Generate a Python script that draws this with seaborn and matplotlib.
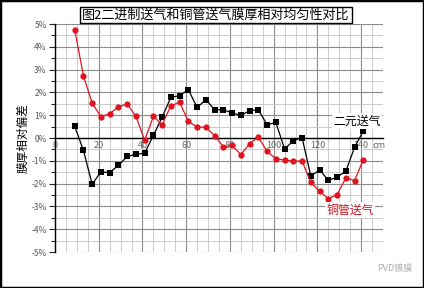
import numpy as np
import pandas as pd
import matplotlib
matplotlib.use("Agg")
import matplotlib.pyplot as plt
from matplotlib.ticker import MultipleLocator, FuncFormatter
from matplotlib.patches import Rectangle
import seaborn as sns

positions = [9 + 4 * i for i in range(34)]
binary_feed = [0.51, -0.54, -2.03, -1.48, -1.52, -1.20, -0.81, -0.72, -0.66, 0.11,
               0.92, 1.78, 1.86, 2.12, 1.34, 1.68, 1.24, 1.24, 1.10, 0.99,
               1.20, 1.24, 0.58, 0.68, -0.48, -0.12, 0.02, -1.68, -1.39, -1.86,
               -1.71, -1.46, -0.41, 0.31]
copper_feed = [4.75, 2.73, 1.53, 0.93, 1.07, 1.36, 1.50, 0.95, -0.10, 0.95,
               0.58, 1.42, 1.56, 0.73, 0.48, 0.47, 0.10, -0.39, -0.32, -0.73,
               -0.25, 0.04, -0.59, -0.91, -0.97, -1.01, -1.01, -1.95, -2.34, -2.66,
               -2.49, -1.75, -1.87, -0.95]
series_names = ["二元送气", "铜管送气"]
title = "图2二进制送气和铜管送气膜厚相对均匀性对比"
ylabel = "膜厚相对偏差"
x_ticks = [0, 20, 40, 60, 80, 100, 120, 140]

sns.set_style("white")
plt.rcParams['font.family'] = ['Noto Sans CJK SC', 'DejaVu Sans']
plt.rcParams['axes.unicode_minus'] = False

df = pd.DataFrame({
    "pos": positions * 2,
    "val": binary_feed + copper_feed,
    "series": [series_names[0]] * len(positions) + [series_names[1]] * len(positions),
})

fig = plt.figure(figsize=(4.24, 2.88), dpi=100)
ax = fig.add_axes([55 / 424, 1 - 252 / 288, (383 - 55) / 424, (252 - 24) / 288])

red = "#e0141e"
sns.lineplot(data=df, x="pos", y="val", hue="series", style="series",
             palette={series_names[0]: "black", series_names[1]: red},
             markers={series_names[0]: "s", series_names[1]: "o"},
             dashes=False, markersize=4.5, linewidth=0.9, markeredgewidth=0,
             legend=False, ax=ax, zorder=3)

ax.set_xlim(0, 150)
ax.set_ylim(-5, 5)
ax.xaxis.set_major_locator(MultipleLocator(20))
ax.xaxis.set_minor_locator(MultipleLocator(5))
ax.yaxis.set_major_locator(MultipleLocator(1))
ax.yaxis.set_minor_locator(MultipleLocator(0.5))
ax.grid(which="major", color="#8a8a8a", linewidth=0.8)
ax.grid(which="minor", color="#c4c4c4", linewidth=0.6)
ax.set_axisbelow(True)

for s in ["top", "right"]:
    ax.spines[s].set_visible(False)
ax.spines["bottom"].set_position(("data", 0))
ax.spines["bottom"].set_color("black")
ax.spines["bottom"].set_linewidth(1.0)
ax.spines["left"].set_color("black")
ax.spines["left"].set_linewidth(1.0)

ax.yaxis.set_major_formatter(FuncFormatter(lambda v, p: f"{int(round(v))}%"))
ax.tick_params(axis="y", which="major", direction="out", length=4, width=0.8,
               labelsize=6, labelcolor="#555555", left=True, pad=2)
ax.tick_params(axis="y", which="minor", direction="out", length=3, width=0.8, left=True)
ax.tick_params(axis="x", which="both", length=0, labelsize=6.5, labelcolor="#666666", pad=2)
ax.set_xticks(x_ticks)
ax.set_xticklabels([str(t) for t in x_ticks])
ax.text(148, -0.12, "cm", ha="center", va="top", fontsize=6.5, color="#666666")

ax.set_xlabel("")
ax.set_ylabel("")
fig.text(23 / 424, 1 - 138 / 288, ylabel, rotation=90, ha="center", va="center",
         fontsize=8.4, color="black")

fig.text(216 / 424, 1 - 15 / 288, title, ha="center", va="center", fontsize=9.4,
         color="black",
         bbox=dict(boxstyle="square,pad=0.15", facecolor="white", edgecolor="black",
                   linewidth=1.0))

ax.text(138, 0.75, series_names[0], ha="center", va="center", fontsize=8.6,
        color="black", zorder=4,
        bbox=dict(boxstyle="square,pad=0.1", facecolor="white", edgecolor="none"))
ax.text(135, -3.16, series_names[1], ha="center", va="center", fontsize=8.6,
        color="#c8141e", zorder=4,
        bbox=dict(boxstyle="square,pad=0.1", facecolor="white", edgecolor="none"))

fig.text(395 / 424, 1 - 268 / 288, "PVD镀膜", ha="center", va="center",
         fontsize=6.5, color="#b0b0b0")

fig.patches.append(Rectangle((0, 0), 1, 1, transform=fig.transFigure, fill=False,
                             edgecolor="black", linewidth=2.5))

fig.savefig("out.png", dpi=100)
